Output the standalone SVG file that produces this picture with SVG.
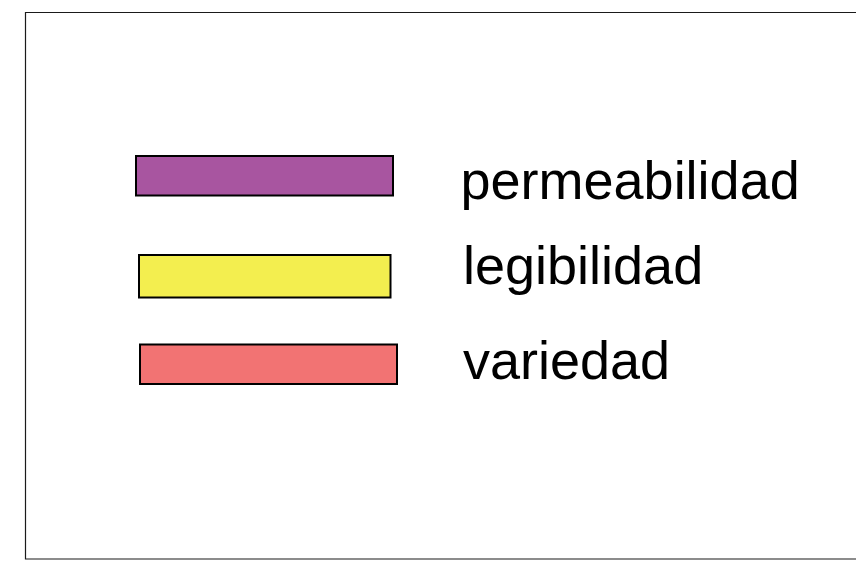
<svg xmlns="http://www.w3.org/2000/svg" width="856" height="561" viewBox="0 0 856 561">
<style>
.sw{stroke:#000;stroke-width:2}
.lbl{font-family:"Liberation Sans",Arial,sans-serif;font-size:54px;fill:#000}
</style>
<rect x="0" y="0" width="856" height="561" fill="#fff"/>
<g id="frame"><path d="M870 12.5 H25.5 V559 H870" fill="none" stroke="#1a1a1a" stroke-width="1.2"/></g>
<g id="legend-permeabilidad">
<rect class="sw" x="136" y="156" width="257" height="39.5" fill="#a855a0"/>
<text class="lbl" x="460.5" y="198.5">permeabilidad</text>
</g>
<g id="legend-legibilidad">
<rect class="sw" x="139" y="255" width="251.5" height="42.5" fill="#f3ee4f"/>
<text class="lbl" x="463" y="284">legibilidad</text>
</g>
<g id="legend-variedad">
<rect class="sw" x="140" y="344.5" width="257" height="39.5" fill="#f27373"/>
<text class="lbl" x="463" y="379">variedad</text>
</g>
</svg>
